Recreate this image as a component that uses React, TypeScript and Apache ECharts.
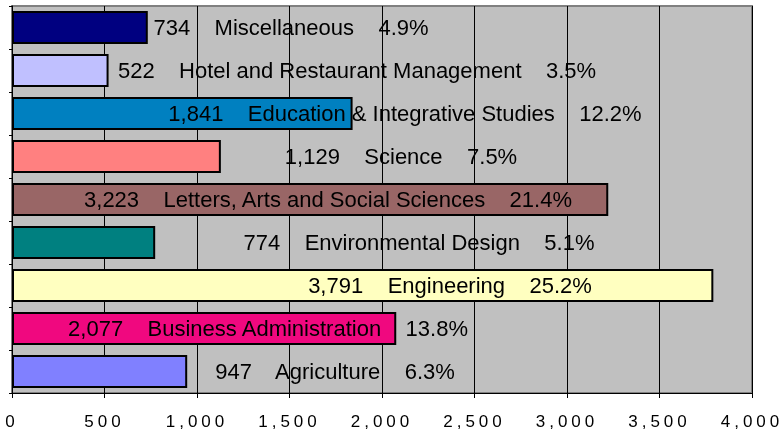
import React, { useEffect, useRef } from "react";
import * as echarts from "echarts";

const categories = [
  "Miscellaneous",
  "Hotel and Restaurant Management",
  "Education & Integrative Studies",
  "Science",
  "Letters, Arts and Social Sciences",
  "Environmental Design",
  "Engineering",
  "Business Administration",
  "Agriculture",
];
const enrollment = [734, 522, 1841, 1129, 3223, 774, 3791, 2077, 947];
const percents = ["4.9%", "3.5%", "12.2%", "7.5%", "21.4%", "5.1%", "25.2%", "13.8%", "6.3%"];
const xTicks = [0, 500, 1000, 1500, 2000, 2500, 3000, 3500, 4000];

// styles
const barColors = ["#000080", "#c0c0ff", "#0080c0", "#ff8080", "#996666", "#008080", "#ffffc0", "#f0087f", "#8080ff"];
const labelCenterOffsets = [279, 345, 393, 389, 316, 407, 438, 256, 323];

export default function App() {
  const ref = useRef<HTMLDivElement>(null);
  useEffect(() => {
    if (!ref.current) return;
    const chart = echarts.init(ref.current, null, { renderer: "svg" });
    const fmt = (v: number) => v.toLocaleString("en-US");
    chart.setOption({
      animation: false,
      grid: {
        left: 12,
        right: 31,
        top: 6,
        bottom: 39,
        show: true,
        backgroundColor: "#c0c0c0",
        borderColor: "#808080",
        borderWidth: 2,
      },
      xAxis: {
        type: "value",
        min: xTicks[0],
        max: xTicks[xTicks.length - 1],
        interval: 500,
        axisLine: { show: true, lineStyle: { color: "#000", width: 1 } },
        axisTick: { show: true, length: 5, lineStyle: { color: "#000" } },
        splitLine: { show: true, lineStyle: { color: "#000", width: 1 } },
        axisLabel: {
          margin: 20,
          fontSize: 17,
          color: "#000",
          fontFamily: "'Liberation Sans', Arimo, Arial",
          formatter: (v: number) => fmt(v),
        },
      },
      yAxis: {
        type: "category",
        inverse: true,
        data: categories,
        axisLine: { show: true, lineStyle: { color: "#000", width: 1 } },
        axisTick: { show: true, length: 3, lineStyle: { color: "#000" } },
        axisLabel: { show: false },
        splitLine: { show: false },
      },
      series: [
        {
          type: "bar",
          barWidth: 33,
          data: enrollment.map((v, i) => ({
            value: v,
            itemStyle: { color: barColors[i], borderColor: "#000", borderWidth: 2 },
            label: {
              show: true,
              position: [labelCenterOffsets[i], "50%"],
              align: "center",
              verticalAlign: "middle",
              fontSize: 22,
              color: "#000",
              fontFamily: "'Liberation Sans', Arial",
              formatter: () => `${fmt(v)}    ${categories[i]}    ${percents[i]}`,
            },
          })),
        },
      ],
    });
    return () => chart.dispose();
  }, []);
  return (
    <>
      <style>{`#root svg text { white-space: pre; } #root svg text[style*="Arimo"] { letter-spacing: 4px; }`}</style>
      <div ref={ref} style={{ position: "fixed", left: 0, top: 0, width: 783, height: 432 }} />
    </>
  );
}
